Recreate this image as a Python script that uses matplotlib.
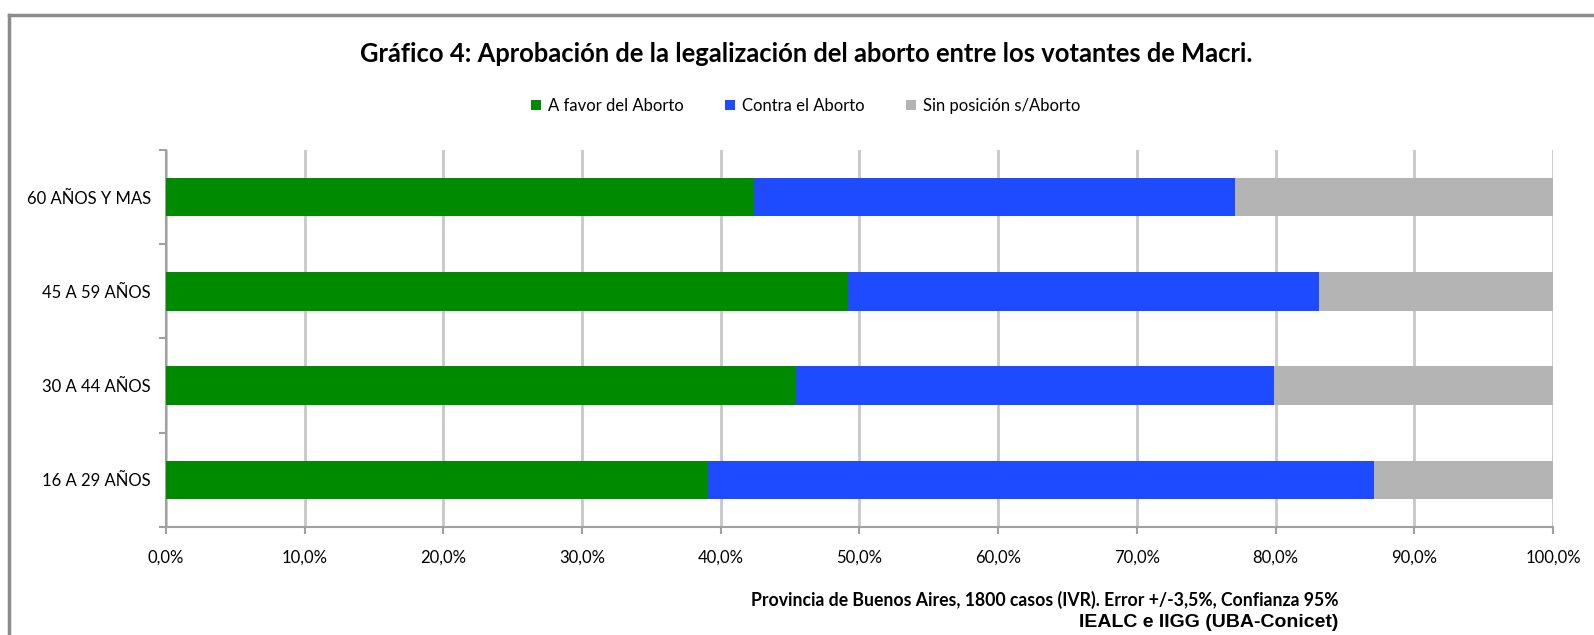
import matplotlib
matplotlib.use("Agg")
import numpy as np
from matplotlib import pyplot as plt
from matplotlib.lines import Line2D
from matplotlib.ticker import FuncFormatter, MultipleLocator

plt.rcParams["font.family"] = ["Lato", "DejaVu Sans"]

# data, top to bottom as drawn
age_groups = ["60 AÑOS Y MAS", "45 A 59 AÑOS", "30 A 44 AÑOS", "16 A 29 AÑOS"]
a_favor = [42.4, 49.2, 45.4, 39.1]
contra = [34.7, 33.9, 34.5, 48.0]
sin_posicion = [22.9, 16.9, 20.1, 12.9]

series_names = ["A favor del Aborto", "Contra el Aborto", "Sin posición s/Aborto"]
series_colors = ["#008a00", "#1e4bff", "#b4b4b4"]

fig = plt.figure(figsize=(15.94, 6.35), dpi=100)
ax = fig.add_axes([0.1041, 0.1701, 0.8702, 0.5937])

y = np.arange(len(age_groups))[::-1]
left = np.zeros(len(age_groups))
for vals, name, col in zip([a_favor, contra, sin_posicion], series_names, series_colors):
    ax.barh(y, vals, left=left, height=0.41, color=col, label=name, zorder=3)
    left += np.array(vals)

ax.set_xlim(0, 100)
ax.set_ylim(-0.5, 3.5)
ax.xaxis.set_major_locator(MultipleLocator(10))
ax.xaxis.set_major_formatter(FuncFormatter(lambda v, p: f"{v:.1f}%".replace(".", ",")))
ax.grid(axis="x", color="#c8c8c8", linewidth=2, zorder=0)

ax.set_yticks(y)
ax.set_yticklabels(age_groups)
ax.set_yticks(np.arange(-0.5, 4, 1), minor=True)
ax.tick_params(axis="y", which="major", length=0, pad=11, labelsize=12)
ax.tick_params(axis="y", which="minor", length=5, color="#a0a0a0", width=1.5)
ax.tick_params(axis="x", length=5, color="#a0a0a0", width=1.5, pad=11, labelsize=12)

for side in ["top", "right"]:
    ax.spines[side].set_visible(False)
for side in ["left", "bottom"]:
    ax.spines[side].set_color("#a0a0a0")
    ax.spines[side].set_linewidth(1.5)

fig.text(0.5055, 0.915, "Gráfico 4: Aprobación de la legalización del aborto entre los votantes de Macri.",
         ha="center", va="center", fontsize=18.4, fontweight="bold")

fig.legend(loc="center", bbox_to_anchor=(0.5055, 0.833), ncol=3, frameon=False,
           fontsize=12, handlelength=0.6, handleheight=0.6, handletextpad=0.4,
           columnspacing=2.5)

fig.text(0.8395, 0.055, "Provincia de Buenos Aires, 1800 casos (IVR). Error +/-3,5%, Confianza 95%",
         ha="right", va="center", fontsize=12.7, fontweight="bold")
fig.text(0.8395, 0.02, "IEALC e IIGG (UBA-Conicet)", ha="right", va="center",
         fontsize=14, fontweight="bold", family=["Liberation Sans", "DejaVu Sans"])

# outer chart border (cut by the image edge on right and bottom)
bx, by = 9 / 1594, 1 - 15 / 635
fig.add_artist(Line2D([bx, bx], [0, by], color="#8c8c8c", linewidth=2.5))
fig.add_artist(Line2D([bx, 1], [by, by], color="#8c8c8c", linewidth=2.5))

fig.savefig("out.png", dpi=100)
